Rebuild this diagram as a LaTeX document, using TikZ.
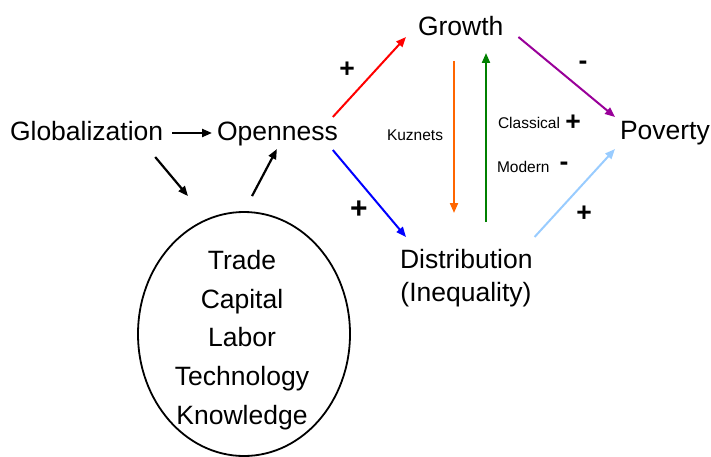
\documentclass[tikz,border=0pt]{standalone}
\usepackage{fontspec}
\setmainfont{Liberation Sans}
\usetikzlibrary{arrows.meta,shapes.geometric}
\definecolor{cred}{RGB}{255,0,0}
\definecolor{cblue}{RGB}{0,0,255}
\definecolor{corange}{RGB}{255,102,0}
\definecolor{cgreen}{RGB}{0,128,0}
\definecolor{cpurple}{RGB}{153,0,153}
\definecolor{clblue}{RGB}{153,204,255}
\tikzset{
  big/.style={font=\fontsize{26.5}{38.7}\selectfont, inner sep=0pt, outer sep=0pt},
  small/.style={font=\fontsize{15.5}{18}\selectfont, inner sep=0pt, outer sep=0pt},
  sign/.style={font=\fontsize{26.5}{30}\selectfont\bfseries, inner sep=0pt, outer sep=0pt, anchor=base},
  arr/.style={line width=2pt, -{Triangle[length=10pt,width=8pt]}},
  barr/.style={arr, line width=2.2pt},
}
\begin{document}
\begin{tikzpicture}[x=1pt,y=-1pt]
\useasboundingbox (0,0) rectangle (711,457);
% nodes
\node[big, anchor=base west] (glob) at (10,140.5) {Globalization};
\node[big, anchor=base west] (open) at (217,140.5) {Openness};
\node[big, anchor=base west] (growth) at (418,36) {Growth};
\node[big, anchor=base west] (poverty) at (620,140) {Poverty};
\node[big, anchor=base west] (dist) at (400,268) {Distribution};
\node[big, anchor=base] (ineq) at (466,301) {(Inequality)};
\node[draw, line width=1.8pt, ellipse, minimum width=212pt, minimum height=244pt, inner sep=0pt] (ell) at (244,334) {};
\node[big, align=center] (items) at (242,340) {Trade\\Capital\\Labor\\Technology\\Knowledge};
% small labels
\node[small, anchor=base west] (kuz) at (387,141) {Kuznets};
\node[small, anchor=base west] (clas) at (498,129) {Classical};
\node[small, anchor=base west] (mod) at (497,172) {Modern};
% signs
\node[sign] (s1) at (347,78) {+};
\node[sign, font=\fontsize{30}{36}\selectfont\bfseries] (s2) at (359,218) {+};
\node[sign] (s3) at (573,131) {+};
\node[sign] (s4) at (564,171) {-};
\node[sign] (s5) at (583,70) {-};
\node[sign] (s6) at (584,221) {+};
% connectors
\draw[barr] ([shift={(9,-7.5)}]glob.base east) -- ([shift={(-5,-7.5)}]open.base west);
\draw[barr] ([shift={(-8,16.5)}]glob.base east) -- ([shift={(-56,-15)}]ell.north);
\draw[barr] ([shift={(8,-15)}]ell.north) -- ([shift={(-0.5,8.5)}]open.base);
\draw[arr, cred] ([shift={(-5,-23.5)}]open.base east) -- ([shift={(-12,1)}]growth.base west);
\draw[arr, cblue] ([shift={(-5,9.5)}]open.base east) -- ([shift={(6,-31)}]dist.base west);
\draw[arr, corange] ([shift={(36,25)}]growth.base west) -- ([shift={(54,-55)}]dist.base west);
\draw[arr, cgreen] ([shift={(86,-46)}]dist.base west) -- ([shift={(68,17)}]growth.base west);
\draw[arr, cpurple] ([shift={(15,1)}]growth.base east) -- ([shift={(-5,-23)}]poverty.base west);
\draw[arr, clblue] ([shift={(2,-31)}]dist.base east) -- ([shift={(-5,9)}]poverty.base west);
\end{tikzpicture}
\end{document}
